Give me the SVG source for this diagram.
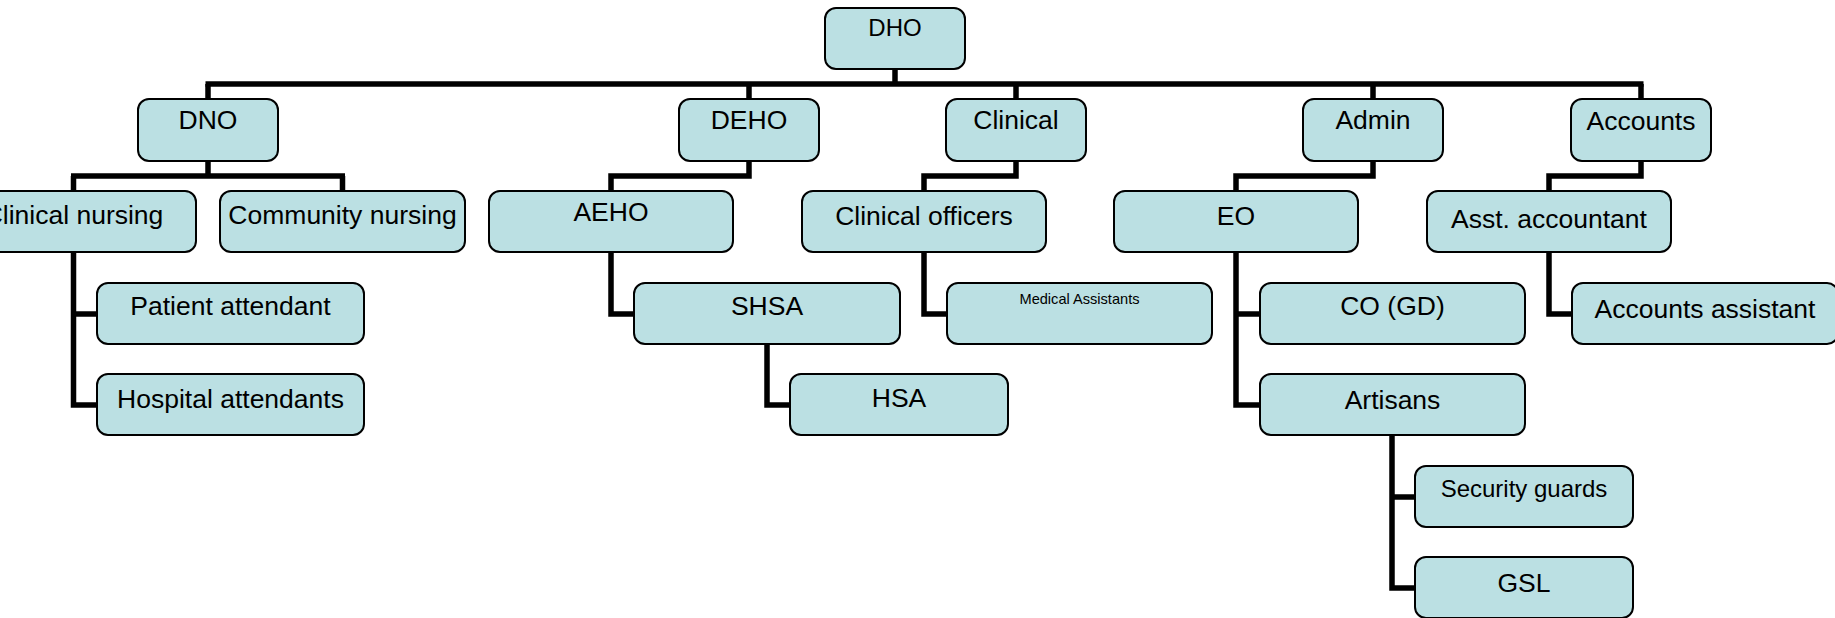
<svg xmlns="http://www.w3.org/2000/svg" width="1835" height="618" viewBox="0 0 1835 618">
<style>
.box{fill:#BBE0E3;stroke:#000;stroke-width:2}
.t{font-family:"Liberation Sans",Arial,sans-serif;font-size:26.5px;fill:#000;text-anchor:middle}
.s{font-size:24px}
.xs{font-size:14.6px}
.c{fill:none;stroke:#000;stroke-width:5.5;stroke-linejoin:miter;stroke-linecap:butt}
</style>
<rect width="1835" height="618" fill="#fff"/>
<g id="connectors" class="c">
<path d="M895,68 V84"/>
<path d="M205.5,84 H1643.5"/>
<path d="M208,84 V100 M749,84 V100 M1016,84 V100 M1373,84 V100 M1641,84 V100"/>
<path d="M208,160 V176 M71,176 H345 M73.5,176 V192 M342.5,176 V192"/>
<path d="M749,160 V176 H611 V192"/>
<path d="M1016,160 V176 H924 V192"/>
<path d="M1373,160 V176 H1236 V192"/>
<path d="M1641,160 V176 H1549 V192"/>
<path d="M73.5,251 V405 H98 M73.5,314 H98"/>
<path d="M611,251 V314 H635"/>
<path d="M767,343 V405 H791"/>
<path d="M924,251 V314 H948"/>
<path d="M1236,251 V405 H1261 M1236,314 H1261"/>
<path d="M1392,435 V588 H1416 M1392,497 H1416"/>
<path d="M1549,251 V314 H1573"/>
</g>
<g id="n-dho"><rect class="box" x="825" y="8" width="140" height="61" rx="11"/><text class="t s" x="895" y="36">DHO</text></g>
<g id="n-dno"><rect class="box" x="138" y="99" width="140" height="62" rx="11"/><text class="t" x="208" y="129">DNO</text></g>
<g id="n-deho"><rect class="box" x="679" y="99" width="140" height="62" rx="11"/><text class="t" x="749" y="129">DEHO</text></g>
<g id="n-clinical"><rect class="box" x="946" y="99" width="140" height="62" rx="11"/><text class="t" x="1016" y="129">Clinical</text></g>
<g id="n-admin"><rect class="box" x="1303" y="99" width="140" height="62" rx="11"/><text class="t" x="1373" y="129">Admin</text></g>
<g id="n-accounts"><rect class="box" x="1571" y="99" width="140" height="62" rx="11"/><text class="t" x="1641" y="130">Accounts</text></g>
<g id="n-clinical-nursing"><rect class="box" x="-49" y="191" width="245" height="61" rx="11"/><text class="t" x="73.5" y="224">Clinical nursing</text></g>
<g id="n-community-nursing"><rect class="box" x="220" y="191" width="245" height="61" rx="11"/><text class="t" x="342.5" y="224">Community nursing</text></g>
<g id="n-aeho"><rect class="box" x="489" y="191" width="244" height="61" rx="11"/><text class="t" x="611" y="221">AEHO</text></g>
<g id="n-clinical-officers"><rect class="box" x="802" y="191" width="244" height="61" rx="11"/><text class="t" x="924" y="225">Clinical officers</text></g>
<g id="n-eo"><rect class="box" x="1114" y="191" width="244" height="61" rx="11"/><text class="t" x="1236" y="225">EO</text></g>
<g id="n-asst-accountant"><rect class="box" x="1427" y="191" width="244" height="61" rx="11"/><text class="t" x="1549" y="228">Asst. accountant</text></g>
<g id="n-patient-attendant"><rect class="box" x="97" y="283" width="267" height="61" rx="11"/><text class="t" x="230.5" y="315">Patient attendant</text></g>
<g id="n-hospital-attendants"><rect class="box" x="97" y="374" width="267" height="61" rx="11"/><text class="t" x="230.5" y="408">Hospital attendants</text></g>
<g id="n-shsa"><rect class="box" x="634" y="283" width="266" height="61" rx="11"/><text class="t" x="767" y="315">SHSA</text></g>
<g id="n-hsa"><rect class="box" x="790" y="374" width="218" height="61" rx="11"/><text class="t" x="899" y="407">HSA</text></g>
<g id="n-medical-assistants"><rect class="box" x="947" y="283" width="265" height="61" rx="11"/><text class="t xs" x="1079.5" y="304">Medical Assistants</text></g>
<g id="n-co-gd"><rect class="box" x="1260" y="283" width="265" height="61" rx="11"/><text class="t" x="1392.5" y="315">CO (GD)</text></g>
<g id="n-artisans"><rect class="box" x="1260" y="374" width="265" height="61" rx="11"/><text class="t" x="1392.5" y="409">Artisans</text></g>
<g id="n-accounts-assistant"><rect class="box" x="1572" y="283" width="266" height="61" rx="11"/><text class="t" x="1705" y="318">Accounts assistant</text></g>
<g id="n-security-guards"><rect class="box" x="1415" y="466" width="218" height="61" rx="11"/><text class="t s" x="1524" y="497">Security guards</text></g>
<g id="n-gsl"><rect class="box" x="1415" y="557" width="218" height="61" rx="11"/><text class="t" x="1524" y="592">GSL</text></g>
</svg>
